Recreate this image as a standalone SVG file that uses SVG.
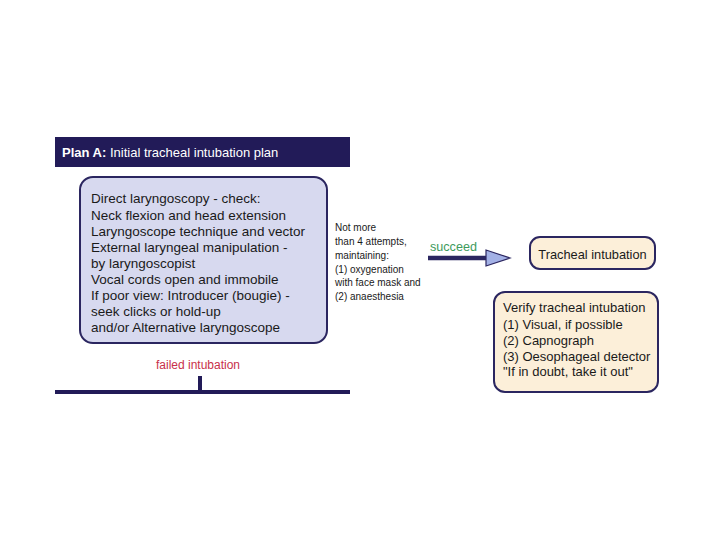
<svg xmlns="http://www.w3.org/2000/svg" width="720" height="540" viewBox="0 0 720 540">
<style>
text{font-family:"Liberation Sans",Arial,sans-serif;}
.box{fill:#d7d9ef;stroke:#2b2660;stroke-width:2;}
.cream{fill:#fcefd9;stroke:#2b2660;stroke-width:2;}
.main{font-size:13.5px;fill:#1a1a1a;}
.small{font-size:10px;fill:#1a1a1a;}
.mid{font-size:13px;fill:#1a1a1a;}
.bar{fill:#221b58;}
</style>
<rect width="720" height="540" fill="#ffffff"/>
<g id="header">
<rect class="bar" x="55" y="137" width="295" height="30"/>
<text x="62" y="157" font-size="13" fill="#ffffff"><tspan font-weight="bold">Plan A:</tspan> Initial tracheal intubation plan</text>
</g>
<g id="plan-a-box">
<rect class="box" x="80" y="177" width="247" height="166" rx="13"/>
<text class="main" x="91" y="203">Direct laryngoscopy - check:</text>
<text class="main" x="91" y="219.5">Neck flexion and head extension</text>
<text class="main" x="91" y="236">Laryngoscope technique and vector</text>
<text class="main" x="91" y="252">External laryngeal manipulation -</text>
<text class="main" x="91" y="268">by laryngoscopist</text>
<text class="main" x="91" y="284">Vocal cords open and immobile</text>
<text class="main" x="91" y="300">If poor view: Introducer (bougie) -</text>
<text class="main" x="91" y="316">seek clicks or hold-up</text>
<text class="main" x="91" y="332">and/or Alternative laryngoscope</text>
</g>
<g id="attempts-note">
<text class="small" x="335" y="231">Not more</text>
<text class="small" x="335" y="245">than 4 attempts,</text>
<text class="small" x="335" y="259">maintaining:</text>
<text class="small" x="335" y="272.5">(1) oxygenation</text>
<text class="small" x="335" y="286">with face mask and</text>
<text class="small" x="335" y="299.5">(2) anaesthesia</text>
</g>
<g id="tracheal-intubation">
<rect class="cream" x="530" y="237" width="125" height="32" rx="10"/>
<text x="592.5" y="258.5" font-size="12.8" fill="#1a1a1a" text-anchor="middle">Tracheal intubation</text>
</g>
<g id="verify">
<rect class="cream" x="494" y="292" width="164" height="100" rx="11"/>
<text class="mid" x="503" y="312">Verify tracheal intubation</text>
<text class="mid" x="503" y="328.5">(1) Visual, if possible</text>
<text class="mid" x="503" y="344.5">(2) Capnograph</text>
<text class="mid" x="503" y="360.5">(3) Oesophageal detector</text>
<text class="mid" x="503" y="376">"If in doubt, take it out"</text>
</g>
<g id="connectors">
<line x1="428" y1="258" x2="488" y2="258" stroke="#2b2660" stroke-width="4.5"/>
<polygon points="486,250 510,258 486,266" fill="#a3b1e6" stroke="#2b2660" stroke-width="1.2"/>
<text x="430" y="251" font-size="12.6" fill="#3e9a5c">succeed</text>
<text x="198" y="369" font-size="12" fill="#c8304a" text-anchor="middle">failed intubation</text>
<line x1="200" y1="376" x2="200" y2="392" stroke="#221b58" stroke-width="4"/>
<line x1="55" y1="392" x2="350" y2="392" stroke="#221b58" stroke-width="4"/>
</g>
</svg>
